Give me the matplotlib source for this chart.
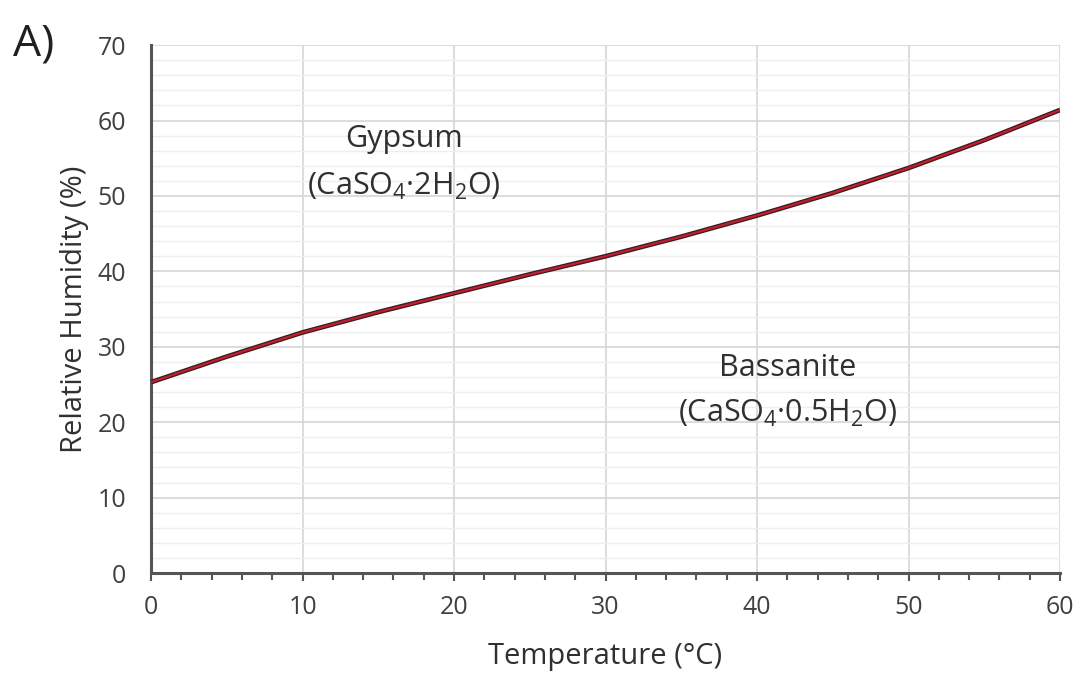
import matplotlib
matplotlib.use("Agg")
import matplotlib.pyplot as plt
from matplotlib.ticker import MultipleLocator

plt.rcParams['font.family'] = ['Open Sans', 'DejaVu Sans']
plt.rcParams['mathtext.fontset'] = 'custom'
plt.rcParams['mathtext.rm'] = 'Open Sans'
plt.rcParams['mathtext.it'] = 'Open Sans'

# values
temperature = [0, 5, 10, 15, 20, 25, 30, 35, 40, 45, 50, 55, 60]
humidity = [25.3, 28.7, 31.9, 34.6, 37.1, 39.6, 42.0, 44.6, 47.4, 50.4, 53.7, 57.4, 61.4]

fig = plt.figure(figsize=(10.82, 6.83), dpi=100)
ax = fig.add_axes([0.1396, 0.161, 0.8401, 0.773])

ax.plot(temperature, humidity, color='#3a1a1e', lw=3.4, solid_capstyle='butt', zorder=3)
ax.plot(temperature, humidity, color='#c0202e', lw=1.6, solid_capstyle='butt', zorder=4)

ax.set_xlim(0, 60)
ax.set_ylim(0, 70)
ax.xaxis.set_major_locator(MultipleLocator(10))
ax.xaxis.set_minor_locator(MultipleLocator(2))
ax.yaxis.set_major_locator(MultipleLocator(10))
ax.yaxis.set_minor_locator(MultipleLocator(2))

ax.grid(which='major', color='#d6d6d6', lw=1.2)
ax.grid(which='minor', axis='y', color='#eeeeee', lw=1.0)
ax.set_axisbelow(True)

for s in ['top', 'right']:
    ax.spines[s].set_visible(False)
for s in ['left', 'bottom']:
    ax.spines[s].set_color('#555555')
    ax.spines[s].set_linewidth(2.2)

ax.tick_params(axis='x', which='major', direction='out', length=6, width=1.5,
               color='#555555', labelsize=18, labelcolor='#404040', pad=10)
ax.tick_params(axis='x', which='minor', direction='out', length=5, width=1.5, color='#555555')
ax.tick_params(axis='y', which='both', length=0, labelsize=18, labelcolor='#404040', pad=18)

ax.set_xlabel('Temperature (°C)', fontsize=21, color='#303030', labelpad=16)
ax.set_ylabel('Relative Humidity (%)', fontsize=21, color='#303030', labelpad=6)

ax.text(16.7, 57.6, 'Gypsum', fontsize=22, color='#303030', ha='center', va='center')
ax.text(16.7, 51.3, r'(CaSO$_4$·2H$_2$O)', fontsize=22, color='#303030', ha='center', va='center')
ax.text(42.0, 27.2, 'Bassanite', fontsize=22, color='#303030', ha='center', va='center')
ax.text(42.0, 21.1, r'(CaSO$_4$·0.5H$_2$O)', fontsize=22, color='#303030', ha='center', va='center')

fig.text(0.012, 0.935, 'A)', fontsize=32, color='#202020', ha='left', va='center')

fig.savefig('out.png', dpi=100)
